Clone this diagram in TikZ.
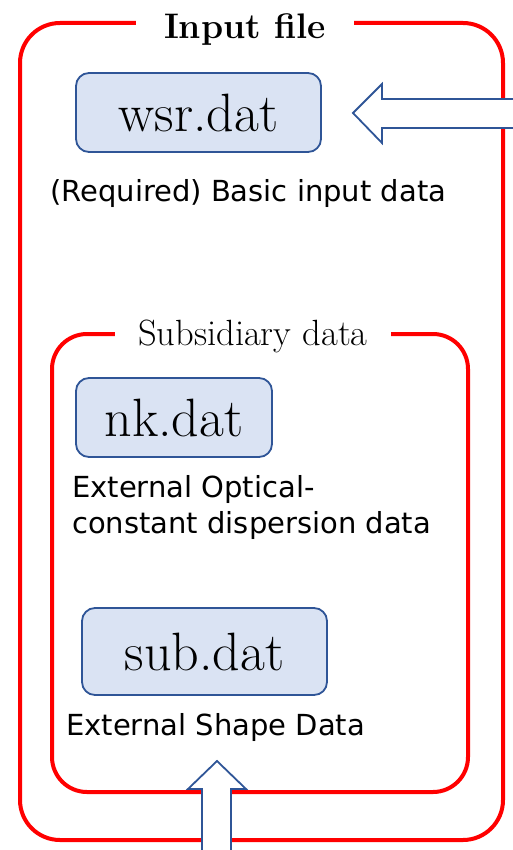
\documentclass[tikz,border=0pt]{standalone}
\usepackage{fontspec}
\newfontfamily\gothic{DejaVu Sans}
\definecolor{framered}{HTML}{FF0000}
\definecolor{boxfill}{HTML}{DAE3F3}
\definecolor{boxline}{HTML}{2F5597}
\tikzset{
  redframe/.style={draw=framered, line width=4pt},
  frametitle/.style={fill=white, inner ysep=0pt, anchor=base},
  filebox/.style={draw=boxline, fill=boxfill, line width=1.8pt, rounded corners=13pt,
    inner sep=0pt, font=\fontsize{54}{54}\selectfont},
  note/.style={anchor=base west, inner sep=0pt, align=left,
    font=\gothic\fontsize{29}{36}\selectfont},
  blockarrow/.style={draw=boxline, fill=white, line width=1.8pt, line join=miter}
}
\begin{document}
\begin{tikzpicture}[x=1pt,y=-1pt]
  \useasboundingbox (0,0) rectangle (513,850);
  % outer frame
  \draw[redframe, rounded corners=40pt] (20,23) rectangle (503,840);
  \node[frametitle, inner xsep=28pt, font=\bfseries\fontsize{35.5}{36}\selectfont] (inputtitle) at (245,39) {Input file};
  \node[filebox, minimum width=245pt, minimum height=79pt] (wsr) at (198.5,112.5) {wsr.dat};
  \node[note] (wsrnote) at (50,202) {(Required) Basic input data};
  % inner frame
  \draw[redframe, rounded corners=35pt] (52,334) rectangle (468,792);
  \node[frametitle, inner xsep=23pt, font=\fontsize{36.5}{36}\selectfont] (subtitle) at (253,345) {Subsidiary data};
  \node[filebox, minimum width=196pt, minimum height=79pt] (nk) at (174,417.5) {nk.dat};
  \node[note] (nknote) at (72,533) {External Optical-\\constant dispersion data};
  \node[filebox, minimum width=245pt, minimum height=87pt] (sub) at (204.5,651.5) {sub.dat};
  \node[note] (subnote) at (66,735) {External Shape Data};
  % block arrows
  \draw[blockarrow] (353,113) -- (382,84) -- (382,99) -- (540,99) -- (540,128)
    -- (382,128) -- (382,143) -- cycle;
  \draw[blockarrow] (217,761) -- (246,789) -- (231,789) -- (231,870) -- (202,870)
    -- (202,789) -- (188,789) -- cycle;
\end{tikzpicture}
\end{document}
